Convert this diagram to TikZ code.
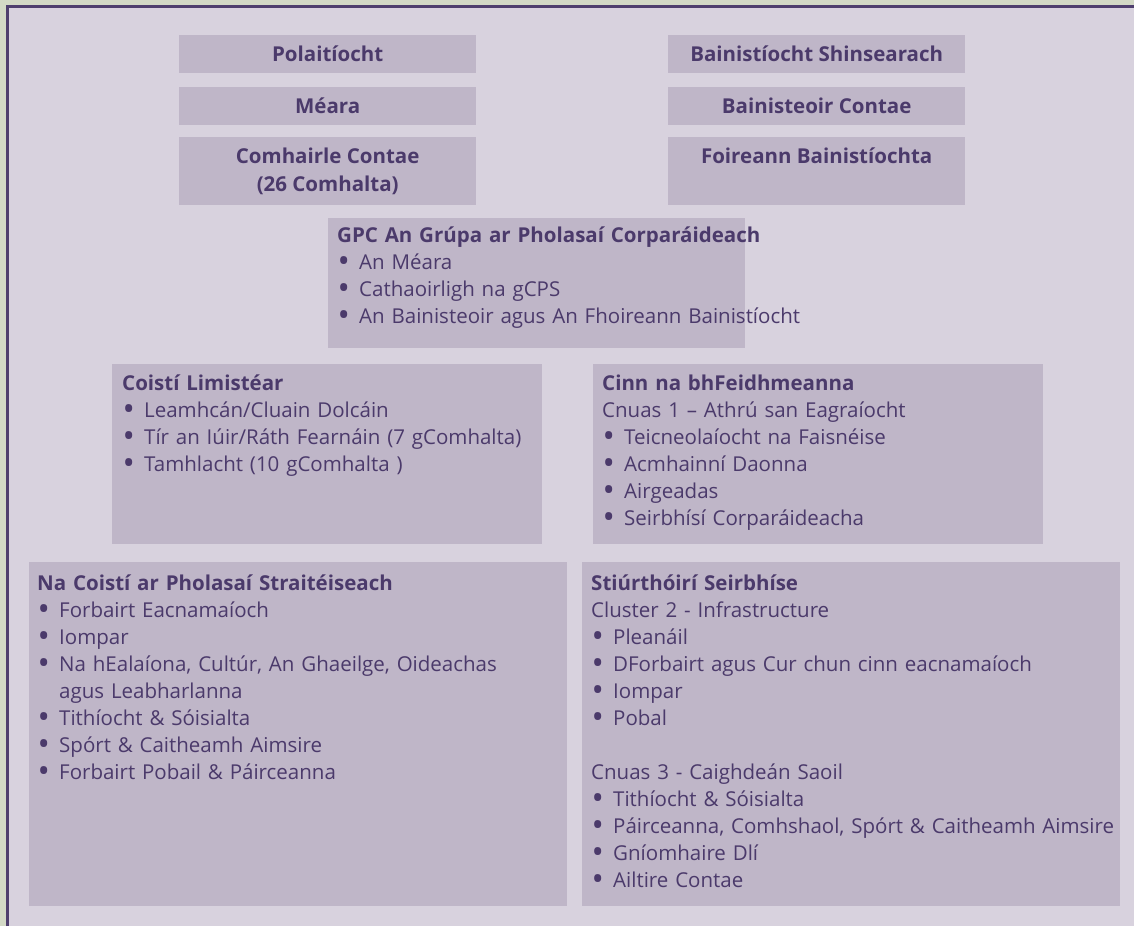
\documentclass[tikz,border=0pt]{standalone}
\usepackage{fontspec}
\usepackage{graphicx}
\setmainfont{Open Sans}
\definecolor{bggreen}{HTML}{D3D9C6}
\definecolor{bglav}{HTML}{D8D2DE}
\definecolor{boxfill}{HTML}{BFB6C8}
\definecolor{txt}{HTML}{4B3A6B}
\definecolor{framecol}{HTML}{4F3F6E}
\newcommand{\bul}{\makebox[22pt][l]{\hspace{0.5pt}\raisebox{-0.35ex}{\scalebox{1.6}{\textbullet}}}}
\tikzset{
  panel/.style={fill=boxfill, draw=none, inner sep=0pt, anchor=north west},
  topbox/.style={panel, minimum width=297pt, text=txt, align=center,
    font=\bfseries\fontsize{20.5}{28}\selectfont},
  body/.style={font=\fontsize{20.5}{27}\selectfont, text=txt, align=left,
    inner sep=0pt, anchor=base west, text width=540pt}
}
\begin{document}
\begin{tikzpicture}[x=1pt,y=-1pt]
\useasboundingbox (0,0) rectangle (1134,926);
\fill[bggreen] (0,0) rectangle (1134,926);
\fill[bglav] (7,6) rectangle (1134,926);
\draw[framecol, line width=2.5pt] (7.25,926) -- (7.25,6.25) -- (1134,6.25);

% top left column
\node[topbox, minimum height=38pt] (pol) at (179,35) {Polaitíocht};
\node[topbox, minimum height=38pt] (mear) at (179,87) {Méara};
\node[topbox, minimum height=68pt] (comh) at (179,137) {Comhairle Contae\\(26 Comhalta)};
% top right column
\node[topbox, minimum height=38pt] (bsh) at (668,35) {Bainistíocht Shinsearach};
\node[topbox, minimum height=38pt] (bco) at (668,87) {Bainisteoir Contae};
\node[topbox, minimum height=68pt] (fbn) at (668,137) {Foireann Bainistíochta\\\phantom{(}};

% GPC
\node[panel, minimum width=417pt, minimum height=130pt] (gpc) at (328,218) {};
\node[body] (gpcT) at (337,242) {\textbf{GPC An Grúpa ar Pholasaí Corparáideach}\\
\bul An Méara\\
\bul Cathaoirligh na gCPS\\
\bul An Bainisteoir agus An Fhoireann Bainistíocht};

% Coisti Limistear
\node[panel, minimum width=430pt, minimum height=180pt] (coisti) at (112,364) {};
\node[body] (coistiT) at (122,390) {\textbf{Coistí Limistéar}\\
\bul Leamhcán/Cluain Dolcáin\\
\bul Tír an Iúir/Ráth Fearnáin (7 gComhalta)\\
\bul Tamhlacht (10 gComhalta )};

% Cinn na bhFeidhmeanna
\node[panel, minimum width=450pt, minimum height=180pt] (cinn) at (593,364) {};
\node[body] (cinnT) at (602,390) {\textbf{Cinn na bhFeidhmeanna}\\
Cnuas 1 – Athrú san Eagraíocht\\
\bul Teicneolaíocht na Faisnéise\\
\bul Acmhainní Daonna\\
\bul Airgeadas\\
\bul Seirbhísí Corparáideacha};

% Na Coisti ar Pholasai Straiteiseach
\node[panel, minimum width=538pt, minimum height=344pt] (cps) at (29,562) {};
\node[body] (cpsT) at (37,590) {\textbf{Na Coistí ar Pholasaí Straitéiseach}\\
\bul Forbairt Eacnamaíoch\\
\bul Iompar\\
\bul Na hEalaíona, Cultúr, An Ghaeilge, Oideachas\\
\hspace*{22pt}agus Leabharlanna\\
\bul Tithíocht \& Sóisialta\\
\bul Spórt \& Caitheamh Aimsire\\
\bul Forbairt Pobail \& Páirceanna};

% Stiurthoiri Seirbhise
\node[panel, minimum width=538pt, minimum height=344pt] (sts) at (582,562) {};
\node[body] (stsT) at (591,590) {\textbf{Stiúrthóirí Seirbhíse}\\
Cluster 2 - Infrastructure\\
\bul Pleanáil\\
\bul DForbairt agus Cur chun cinn eacnamaíoch\\
\bul Iompar\\
\bul Pobal\\[27pt]
Cnuas 3 - Caighdeán Saoil\\
\bul Tithíocht \& Sóisialta\\
\bul Páirceanna, Comhshaol, Spórt \& Caitheamh Aimsire\\
\bul Gníomhaire Dlí\\
\bul Ailtire Contae};
\end{tikzpicture}
\end{document}
